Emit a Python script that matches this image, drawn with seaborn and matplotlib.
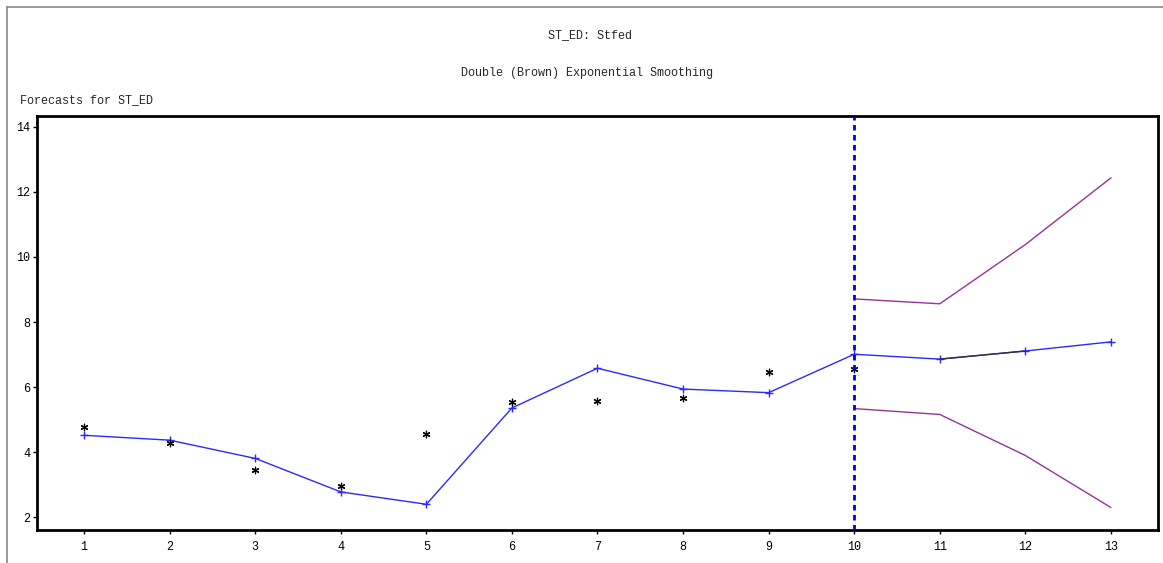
import numpy as np
import pandas as pd
import matplotlib
matplotlib.use("Agg")
import matplotlib.pyplot as plt
import seaborn as sns
from matplotlib.lines import Line2D

# ---- data ----
periods = [1, 2, 3, 4, 5, 6, 7, 8, 9, 10, 11, 12, 13]
forecast = [4.52, 4.37, 3.81, 2.78, 2.40, 5.36, 6.58, 5.94, 5.83, 7.01, 6.86, 7.11, 7.39]
actual_periods = [1, 2, 3, 4, 5, 6, 7, 8, 9, 10]
actual = [4.78, 4.27, 3.45, 2.96, 4.56, 5.55, 5.56, 5.67, 6.47, 6.56]
bound_periods = [10, 11, 12, 13]
upper = [8.71, 8.56, 10.38, 12.43]
lower = [5.34, 5.16, 3.90, 2.30]
forecast_origin = 10
xticks = list(range(1, 14))
yticks = [2, 4, 6, 8, 10, 12, 14]

sns.set_theme(style="white")
plt.rcParams['font.family'] = ['Liberation Mono', 'DejaVu Sans']

fig = plt.figure(figsize=(11.63, 5.63), dpi=100)
ax = fig.add_axes([37/1163, 1-530/563, (1158-37)/1163, (530-116)/563])

df_f = pd.DataFrame({"t": periods, "v": forecast})
df_a = pd.DataFrame({"t": actual_periods, "v": actual})
df_b = pd.DataFrame({"t": bound_periods, "up": upper, "lo": lower})

blue = "#2a2aff"
purple = "#993399"

sns.lineplot(data=df_f, x="t", y="v", ax=ax, color=blue, lw=1.0,
             marker="+", markersize=6, markeredgewidth=1.0, markeredgecolor=blue)
# the segment between 11 and 12 appears dark in the reference
seg = df_f[(df_f.t >= 11) & (df_f.t <= 12)]
sns.lineplot(data=seg, x="t", y="v", ax=ax, color="#333333", lw=1.0)
sns.lineplot(data=df_b, x="t", y="up", ax=ax, color=purple, lw=1.0)
sns.lineplot(data=df_b, x="t", y="lo", ax=ax, color=purple, lw=1.0)
sns.scatterplot(data=df_a, x="t", y="v", ax=ax, marker=(6, 2, 0), s=22,
                color="black", linewidth=0.9, edgecolor="black", zorder=5)
ax.axvline(forecast_origin, color="#0000ee", lw=2.0, ls=(0, (2, 1.6)), zorder=6)

ax.set_xlim(0.45, 13.55)
ax.set_ylim(1.61, 14.33)
ax.set_xticks(xticks)
ax.set_yticks(yticks)
ax.set_xlabel("")
ax.set_ylabel("")
ax.tick_params(axis="both", which="major", labelsize=8.5, colors="black",
               length=3, width=1, direction="out", bottom=True, left=True, pad=2)
ax.tick_params(axis="x", pad=5)
for sp in ax.spines.values():
    sp.set_color("black")
    sp.set_linewidth(2.0)
ax.grid(False)

fig.text(590/1163, 1-35/563, "ST_ED: Stfed", ha="center", va="center", fontsize=8.5)
fig.text(587/1163, 1-73/563, "Double (Brown) Exponential Smoothing", ha="center",
         va="center", fontsize=8.5)
fig.text(20/1163, 1-100/563, "Forecasts for ST_ED", ha="left", va="center", fontsize=8.5)

# outer gray frame (left and top edges visible)
fig.add_artist(Line2D([7/1163, 7/1163], [0, 1-7/563], transform=fig.transFigure,
                      color="#888888", lw=1.2))
fig.add_artist(Line2D([7/1163, 1], [1-7/563, 1-7/563], transform=fig.transFigure,
                      color="#888888", lw=1.2))

fig.savefig("out.png", dpi=100)
